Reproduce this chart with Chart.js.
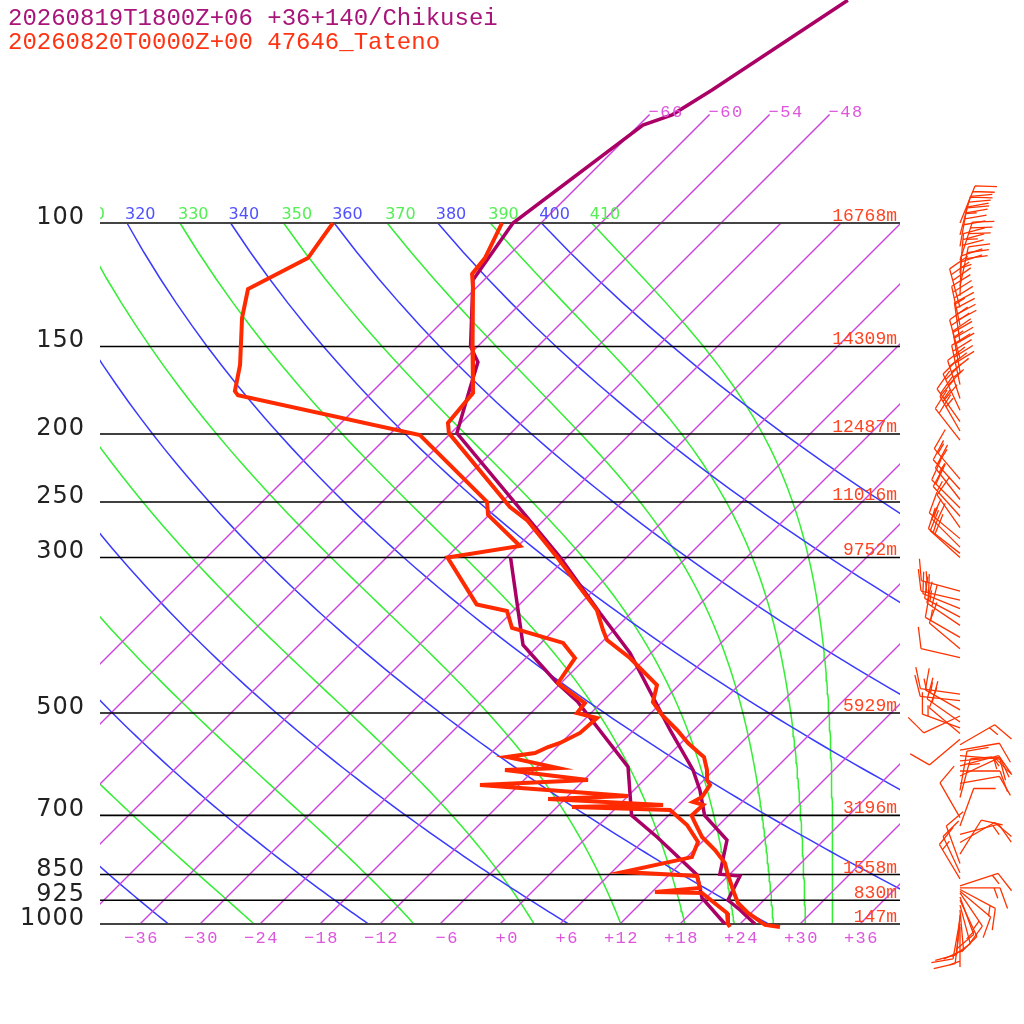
<!DOCTYPE html>
<html>
<head>
<meta charset="utf-8">
<title>Skew-T Tateno</title>
<script src="https://cdn.jsdelivr.net/npm/chart.js@4.4.1/dist/chart.umd.min.js"></script>
<style>
  html, body { margin: 0; padding: 0; background: #fff; }
  #wrap { width: 1024px; height: 1024px; }
</style>
</head>
<body>
<div id="wrap"><canvas id="skewt" width="1024" height="1024"></canvas></div>
<script>
// ---- titles
const titleFcst = '20260819T1800Z+06 +36+140/Chikusei';
const titleObs = '20260820T0000Z+00 47646_Tateno';

// ---- pressure levels with labels and heights (obs)
const levelP = [100, 150, 200, 250, 300, 500, 700, 850, 925, 1000];
const levelHeight = ['16768m', '14309m', '12487m', '11016m', '9752m', '5929m', '3196m', '1558m', '830m', '147m'];

// ---- observed sounding (Tateno), hPa / degC
const obsTempP = [100, 112.2, 118.2, 123.8, 150, 174.8, 192.9, 199.4, 254.2, 265.3, 299.6, 356.6, 380.7, 393.4, 417.4, 456.1, 482.4, 503.3, 528.7, 551.8, 568.3, 577.8, 603.0, 623.1, 633.4, 658.8, 669.8, 676.3, 700, 717.6, 751.4, 784.2, 818.5, 849, 894.3, 933.4, 964.5, 1003, 1010];
const obsTemp = [-69.9, -68.1, -67.8, -66.3, -60.5, -55.8, -55.3, -54.2, -40.7, -37.7, -31.0, -21.7, -19.1, -17.7, -13.6, -8.2, -6.9, -4.7, -1.7, 0.7, 2.6, 3.7, 5.3, 6.3, 7.1, 7.5, 7.1, 8.4, 8.3, 9.4, 11.5, 14.1, 16.4, 17.8, 19.9, 21.7, 23.7, 26.6, 28.3];

const obsDewP = [100, 103.7, 112.2, 124.2, 136.6, 159.4, 173.7, 176.0, 200.7, 250, 260.9, 288.9, 300, 350, 357.7, 378.2, 397.2, 417.4, 453.1, 484, 500, 508.3, 533.9, 551.8, 559.1, 570.3, 577.8, 599.1, 603.0, 623.1, 633.4, 656.6, 663.1, 676.3, 680.8, 687.6, 722.3, 763.9, 802.8, 843.0, 854.2, 888.5, 900.4, 903.2, 964.5, 1000, 1010];
const obsDew = [-86.8, -86.5, -85.8, -88.7, -86.4, -81.9, -79.8, -79.1, -56.9, -43.5, -42.1, -35.8, -41.9, -34.3, -30.6, -28.4, -21.8, -19.1, -18.3, -13.6, -13.4, -10.9, -11.1, -12.1, -12.9, -13.6, -16.0, -9.8, -14.9, -5.6, -15.9, 0.0, -7.7, 4.4, -4.5, 5.6, 8.8, 11.6, 12.5, 7.1, 14.9, 16.4, 12.3, 17.1, 21.6, 22.8, 23.3];

// ---- forecast profile (Chikusei)
const fcTempP = [48.1, 64.6, 70.1, 72.5, 100, 120.6, 150, 157.9, 171.9, 199.4, 262.7, 299.6, 360.1, 410.6, 474.5, 528.7, 603.0, 644.1, 700, 758.9, 849, 854.2, 894.3, 924.2, 955.0, 1000];
const fcTemp = [-57.6, -62.2, -63.7, -65.6, -68.8, -67.1, -60.7, -58.4, -56.6, -53.4, -38.0, -30.7, -21.1, -14.1, -7.4, -2.4, 3.9, 6.6, 9.6, 14.3, 17.0, 19.2, 19.9, 20.4, 22.6, 25.5];
const fcDewP = [300, 399.9, 453.1, 482.4, 597.0, 700, 751.4, 851, 918.1, 1000];
const fcDew = [-35.6, -25.6, -18.4, -14.4, -2.9, 2.3, 7.0, 14.8, 17.6, 22.5];

// ---- observed winds: pressure, direction (deg), speed (kt)
const windP = [100, 104, 108, 113, 118, 123, 127,
  132, 140, 148, 156, 163, 170, 178, 185, 192, 198, 204,
  232, 240, 248, 255, 262, 272, 282, 290, 296, 300,
  335, 345, 355, 365, 375, 390, 405, 417, 470, 480,
  495, 505, 515, 525, 535, 545, 555, 565, 575, 585, 595, 605, 615, 630, 645, 660,
  705, 725, 745, 765, 795, 820, 845, 862,
  882, 888, 893, 898, 903, 915, 925, 940, 955, 970, 985, 1000, 1010];
const windDir = [22, 15, 10, 18, 5, 12, 2,
  345, 348, 352, 345, 350, 348, 342, 335, 325, 330, 322,
  320, 318, 322, 315, 318, 325, 310, 315, 308, 312,
  285, 283, 292, 298, 304, 300, 310, 283, 278, 276,
  300, 245, 305, 290, 310, 230, 60, 80, 95, 85, 75, 90, 65, 80, 10, 15,
  330, 20, 75, 60, 32, 340, 335, 329,
  72, 90, 118, 130, 146, 160, 155, 165, 175, 185, 190, 187, 180];
const windSpd = [30, 35, 40, 35, 30, 30, 25,
  30, 35, 40, 35, 30, 40, 35, 30, 25, 25, 20,
  15, 20, 15, 20, 15, 10, 15, 20, 15, 20,
  15, 15, 20, 15, 20, 15, 10, 10, 15, 10,
  15, 10, 20, 15, 10, 10, 15, 10, 15, 10, 15, 10, 10, 10, 10, 15,
  10, 10, 15, 10, 10, 10, 10, 15,
  15, 15, 15, 10, 15, 10, 15, 10, 10, 10, 10, 10, 5];

// ---- background line sets
const isotherms = [-66, -60, -54, -48, -42, -36, -30, -24, -18, -12, -6, 0, 6, 12, 18, 24, 30, 36];
const dryThetas = [240, 260, 280, 300, 320, 340, 360, 380, 400];
const moistThetas = [250, 270, 290, 310, 330, 350, 370, 390, 410];
const bottomTicks = [-36, -30, -24, -18, -12, -6, 0, 6, 12, 18, 24, 30, 36];

// ---- geometry of the diagram
const SKEW = 70.1;                         // degC of shift per decade of pressure
const P_TOP = Math.pow(10, 3 - 924 / 701);  // pressure at canvas top
const P_BOTTOM = Math.pow(10, 3 + 8 / 701); // a bit below 1000 hPa (surface)

const COL_RED = '#ff2a00';
const COL_PURPLE = '#aa0066';
const COL_ISO = '#cc44dd';
const COL_DRY = '#3a3aff';
const COL_MOIST = '#33ee33';
const BG_WIDTH = 1.5;

const skewX = (t, p) => t + SKEW * Math.log10(1000 / p);

function esat(tc) {
  return 6.112 * Math.exp(17.67 * tc / (tc + 243.5));
}

// Bolton equivalent potential temperature of saturated air
function satThetaE(tc, p) {
  const tk = tc + 273.15;
  const e = esat(tc);
  const r = 622 * e / (p - e);
  return tk * Math.pow(1000 / p, 0.2854 * (1 - 0.00028 * r)) *
    Math.exp((3.376 / tk - 0.00254) * r * (1 + 0.00081 * r));
}

function moistTemp(thetaE, p) {
  let lo = -160, hi = 60;
  for (let i = 0; i < 50; i++) {
    const mid = (lo + hi) / 2;
    if (satThetaE(mid, p) > thetaE) hi = mid; else lo = mid;
  }
  return (lo + hi) / 2;
}

const sampleP = [];
for (let p = 1000; p >= 100; p -= 10) sampleP.push(p);

const profile = (ps, ts) => ps.map((p, i) => ({ x: skewX(ts[i], p), y: p }));

const datasets = [];

// profiles on top
datasets.push({ data: profile(obsTempP, obsTemp), borderColor: COL_RED, borderWidth: 4, order: 0 });
datasets.push({ data: profile(obsDewP, obsDew), borderColor: COL_RED, borderWidth: 4, order: 0 });
datasets.push({ data: profile(fcTempP, fcTemp), borderColor: COL_PURPLE, borderWidth: 3.5, order: 1 });
datasets.push({ data: profile(fcDewP, fcDew), borderColor: COL_PURPLE, borderWidth: 3.5, order: 1 });

// pressure lines (outer ones a bit heavier and grey)
levelP.forEach(p => {
  const outer = p === 100 || p === 1000;
  datasets.push({
    data: [{ x: 40, y: p }, { x: -40, y: p }],
    borderColor: outer ? '#444' : '#000', borderWidth: outer ? 2.2 : 1.6, order: 5
  });
});

// isotherms
isotherms.forEach(t => {
  const pEnd = t <= -48 ? 70 : 100;
  datasets.push({
    data: [{ x: skewX(t, pEnd), y: pEnd }, { x: skewX(t, 1000), y: 1000 }],
    borderColor: COL_ISO, borderWidth: BG_WIDTH, order: 10
  });
});

// dry adiabats
dryThetas.forEach(th => {
  datasets.push({
    data: sampleP.map(p => ({ x: skewX(th * Math.pow(p / 1000, 0.2857) - 273.15, p), y: p })),
    borderColor: COL_DRY, borderWidth: BG_WIDTH, order: 10
  });
});

// moist adiabats
moistThetas.forEach(th => {
  datasets.push({
    data: sampleP.map(p => ({ x: skewX(moistTemp(th, p), p), y: p })),
    borderColor: COL_MOIST, borderWidth: BG_WIDTH, order: 10
  });
});

datasets.forEach(d => { d.showLine = true; d.pointRadius = 0; d.tension = 0; d.fill = false; });

const fmtT = t => (t > 0 ? '+' + t : t === 0 ? '+0' : '\u2212' + Math.abs(t));

// text: titles, axis labels, line labels
const skewtText = {
  id: 'skewtText',
  afterDraw(chart) {
    const { ctx, chartArea } = chart;
    const xs = chart.scales.x, ys = chart.scales.y;
    ctx.save();
    ctx.textBaseline = 'alphabetic';

    // titles
    ctx.font = '24px "Liberation Mono"';
    ctx.textAlign = 'left';
    ctx.fillStyle = '#a8147a';
    ctx.fillText(titleFcst, 8, 25);
    ctx.fillStyle = '#ff3311';
    ctx.fillText(titleObs, 8, 49);

    // pressure labels
    ctx.font = '24px "DejaVu Sans"';
    ctx.letterSpacing = '1px';
    ctx.fillStyle = '#222';
    ctx.textAlign = 'right';
    levelP.forEach(p => ctx.fillText(String(p), 85, ys.getPixelForValue(p) + 1));
    ctx.letterSpacing = '0px';

    // heights
    ctx.font = '18px "Liberation Mono"';
    ctx.fillStyle = '#ff4422';
    levelP.forEach((p, i) => ctx.fillText(levelHeight[i], 897, ys.getPixelForValue(p) - 2));

    // temperature labels at the bottom
    ctx.font = '17px "Liberation Mono"';
    ctx.letterSpacing = '1.5px';
    ctx.fillStyle = '#dd55dd';
    bottomTicks.forEach(t => ctx.fillText(fmtT(t), xs.getPixelForValue(t) + 19, 943));

    // isotherm labels at the top
    ctx.textAlign = 'left';
    isotherms.filter(t => t <= -48).forEach(t => {
      ctx.fillText(fmtT(t), xs.getPixelForValue(skewX(t, 70)) - 1, ys.getPixelForValue(70) + 3);
    });
    ctx.letterSpacing = '0px';

    // theta labels along 100 hPa, clipped to the plot
    ctx.beginPath();
    ctx.rect(chartArea.left, 0, chartArea.right - chartArea.left, chartArea.bottom);
    ctx.clip();
    ctx.font = '16px "DejaVu Sans"';
    const yLab = ys.getPixelForValue(100) - 4;
    dryThetas.forEach(th => {
      ctx.fillStyle = '#5050ff';
      const x = xs.getPixelForValue(skewX(th * Math.pow(0.1, 0.2857) - 273.15, 100));
      ctx.fillText(String(th), x - 2, yLab);
    });
    moistThetas.forEach(th => {
      ctx.fillStyle = '#55ee55';
      const x = xs.getPixelForValue(skewX(moistTemp(th, 100), 100));
      ctx.fillText(String(th), x - 2, yLab);
    });
    ctx.restore();
  }
};

// wind barbs beside the diagram
function drawBarb(ctx, x, y, dir, spd) {
  const L = 40, FL = 22, GAP = 6;
  const a = dir * Math.PI / 180;
  const ux = Math.sin(a), uy = -Math.cos(a);
  const r = 70 * Math.PI / 180;
  const fx = ux * Math.cos(r) - uy * Math.sin(r);
  const fy = ux * Math.sin(r) + uy * Math.cos(r);
  ctx.beginPath();
  ctx.moveTo(x, y);
  ctx.lineTo(x + ux * L, y + uy * L);
  let s = Math.round(spd / 5) * 5;
  let pos = L;
  while (s >= 10) {
    const bx = x + ux * pos, by = y + uy * pos;
    ctx.moveTo(bx, by);
    ctx.lineTo(bx + fx * FL, by + fy * FL);
    s -= 10;
    pos -= GAP;
  }
  if (s >= 5) {
    if (pos === L) pos -= GAP;
    const bx = x + ux * pos, by = y + uy * pos;
    ctx.moveTo(bx, by);
    ctx.lineTo(bx + fx * FL / 2, by + fy * FL / 2);
  }
  ctx.stroke();
}

const windBarbs = {
  id: 'windBarbs',
  afterDatasetsDraw(chart) {
    const { ctx } = chart;
    const ys = chart.scales.y;
    ctx.save();
    ctx.strokeStyle = '#ff3300';
    ctx.lineWidth = 1.3;
    windP.forEach((p, i) => drawBarb(ctx, 960, ys.getPixelForValue(p), windDir[i], windSpd[i]));
    ctx.restore();
  }
};

new Chart(document.getElementById('skewt'), {
  type: 'scatter',
  data: { datasets },
  options: {
    responsive: false,
    animation: false,
    events: [],
    layout: { padding: { left: 100, right: 124, top: 0, bottom: 92 } },
    scales: {
      x: { type: 'linear', min: -40, max: 40, bounds: 'data', display: false },
      y: { type: 'logarithmic', min: P_TOP, max: P_BOTTOM, reverse: true, bounds: 'data', display: false }
    },
    plugins: {
      legend: { display: false },
      tooltip: { enabled: false }
    }
  },
  plugins: [skewtText, windBarbs]
});
</script>
</body>
</html>
